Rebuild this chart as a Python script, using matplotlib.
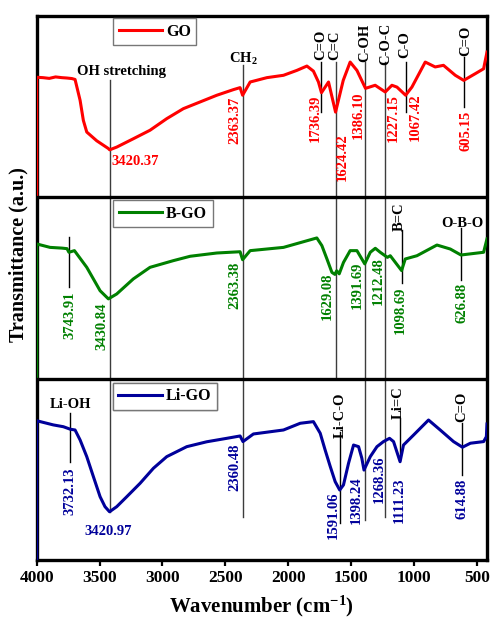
import matplotlib
matplotlib.use("Agg")
import matplotlib.pyplot as plt

plt.rcParams['font.family'] = ['Liberation Serif', 'DejaVu Serif']
plt.rcParams['font.weight'] = 'bold'
plt.rcParams['mathtext.fontset'] = 'custom'
plt.rcParams['mathtext.rm'] = 'Liberation Serif:bold'
plt.rcParams['mathtext.bf'] = 'Liberation Serif:bold'
plt.rcParams['mathtext.it'] = 'Liberation Serif:bold'

# ---------------- data (wavenumber, transmittance a.u. within each panel) ----
GO_wn = [4000, 4000, 3950, 3900, 3850, 3800, 3760, 3720, 3695, 3655, 3629, 3602,
         3523, 3430, 3420, 3364, 3232, 3099, 2966, 2834, 2701, 2568, 2436, 2383,
         2363, 2303, 2170, 2038, 1932, 1852, 1800, 1760, 1736, 1680, 1624, 1563,
         1508, 1454, 1386, 1309, 1229, 1176, 1136, 1067, 1017, 911, 832, 766, 672,
         605, 513, 447, 420]
GO_T = [0, 66.2, 66.0, 65.6, 66.4, 66.0, 65.8, 65.5, 65.0, 53.5, 42.4, 36.0,
        31.2, 26.9, 26.2, 27.7, 32.3, 37.0, 43.4, 48.9, 52.6, 56.3, 59.4, 60.5,
        56.3, 63.6, 66.0, 67.3, 70.0, 72.4, 69.6, 63.6, 57.7, 63.6, 47.0, 64.5,
        74.6, 70.0, 60.1, 61.8, 58.1, 61.8, 60.8, 56.3, 60.8, 74.6, 71.9, 72.8,
        67.3, 64.5, 68.2, 70.9, 80.1]

BGO_wn = [4000, 4000, 3894, 3800, 3759, 3744, 3700, 3602, 3496, 3430, 3364, 3232,
          3099, 2913, 2780, 2568, 2383, 2363, 2303, 2038, 1773, 1733, 1693, 1653,
          1629, 1615, 1595, 1561, 1508, 1454, 1392, 1348, 1308, 1269, 1212, 1189,
          1099, 1070, 977, 818, 712, 627, 447, 420]
BGO_T = [0, 74.3, 72.4, 72.0, 71.7, 69.7, 70.6, 61.4, 48.5, 44.0, 46.7, 55.0,
         61.4, 65.1, 67.5, 69.3, 70.0, 65.6, 70.6, 72.4, 77.6, 73.4, 66.1, 58.6,
         57.5, 59.5, 57.8, 64.1, 70.6, 70.6, 63.3, 69.7, 71.9, 69.7, 66.9, 67.8,
         59.6, 66.0, 67.8, 73.7, 71.5, 68.2, 69.7, 77.1]

LiGO_wn = [4000, 4000, 3868, 3788, 3732, 3695, 3655, 3602, 3549, 3496, 3457, 3421,
           3364, 3284, 3178, 3072, 2966, 2807, 2648, 2489, 2383, 2360, 2277, 2038,
           1905, 1800, 1746, 1707, 1666, 1627, 1591, 1561, 1521, 1481, 1441, 1415,
           1398, 1348, 1295, 1243, 1195, 1163, 1111, 1084, 1004, 885, 792, 686, 615,
           552, 447, 425, 420]
LiGO_T = [0, 76.8, 74.5, 73.5, 72.1, 71.7, 66.2, 57.0, 45.9, 34.9, 29.4, 26.6,
          29.4, 34.9, 42.3, 50.6, 57.0, 62.5, 65.2, 67.1, 68.4, 65.3, 69.5, 71.7,
          75.4, 76.3, 69.9, 60.7, 51.5, 43.2, 38.6, 41.4, 53.3, 63.4, 62.5, 56.1,
          49.6, 57.0, 62.5, 65.3, 67.1, 65.3, 54.2, 63.4, 68.9, 77.2, 71.7, 65.3,
          62.2, 64.4, 65.3, 68.0, 75.0]

series_names = ['GO', 'B-GO', 'Li-GO']

GO_peaks = [3420.37, 2363.37, 1736.39, 1624.42, 1386.10, 1227.15, 1067.42, 605.15]
BGO_peaks = [3743.91, 3430.84, 2363.38, 1629.08, 1391.69, 1212.48, 1098.69, 626.88]
LiGO_peaks = [3732.13, 3420.97, 2360.48, 1591.06, 1398.24, 1268.36, 1111.23, 614.88]

GO_bands = ['OH stretching', 'CH$_2$', 'C=O', 'C=C', 'C-OH', 'C-O-C', 'C-O', 'C=O']
BGO_bands = ['B=C', 'O-B-O']
LiGO_bands = ['Li-OH', 'Li-C-O', 'Li=C', 'C=O']

xticks = [4000, 3500, 3000, 2500, 2000, 1500, 1000, 500]

# ---------------- styles / layout -------------------------------------------
colors = ['#ff0000', '#008000', '#00009a']
offsets = [2, 1, 0]
W, H = 491, 619
fig = plt.figure(figsize=(W / 100, H / 100), dpi=100)
ax = fig.add_axes([36.7 / W, 59 / H, 450.3 / W, 544 / H])

curves = [(GO_wn, GO_T), (BGO_wn, BGO_T), (LiGO_wn, LiGO_T)]
handles = []
for (wn, T), c, off, name in zip(curves, colors, offsets, series_names):
    ln, = ax.plot(wn, [off + t / 100 for t in T], color=c, lw=2.2, label=name,
                  solid_joinstyle='round', zorder=3)
    handles.append(ln)

ax.set_xlim(4000, 420)
ax.set_ylim(0, 3)
for s in ax.spines.values():
    s.set_linewidth(2.4)
ax.axhline(1, color='black', lw=2.4, zorder=5)
ax.axhline(2, color='black', lw=2.4, zorder=5)
ax.set_yticks([])
ax.set_xticks(xticks)
ax.tick_params(axis='x', direction='out', length=4, width=1.6, labelsize=12.5, pad=3)
for lab in ax.get_xticklabels():
    lab.set_fontweight('bold')

# legends
leg_pos = [(0.170, 0.9958), (0.170, 0.6618), (0.169, 0.3259)]
for h, pos in zip(handles, leg_pos):
    lg = ax.legend(handles=[h], loc='upper left', bbox_to_anchor=pos, borderaxespad=0,
                   fancybox=False, edgecolor='#777777', framealpha=1,
                   handlelength=2.7, handletextpad=0.25, borderpad=0.35,
                   prop={'weight': 'bold', 'size': 11.5})
    lg.get_frame().set_linewidth(1.0)
    ax.add_artist(lg)

# vertical marker lines: (wavenumber, y0, y1, colour)
gray = '#3c3c3c'
vlines = [
    (GO_peaks[0], 2.647, 0.265, gray),
    (GO_peaks[1], 2.730, 0.237, gray),
    (GO_peaks[2], 2.746, 2.471, 'black'),
    (GO_peaks[3], 2.746, 1.000, gray),
    (GO_peaks[4], 2.746, 0.221, gray),
    (GO_peaks[5], 2.746, 0.237, gray),
    (GO_peaks[6], 2.746, 2.471, 'black'),
    (GO_peaks[7], 2.774, 2.498, 'black'),
    (BGO_peaks[0], 1.783, 1.507, 'black'),
    (BGO_peaks[6], 1.820, 1.526, 'black'),
    (BGO_peaks[7], 1.831, 1.544, 'black'),
    (LiGO_peaks[0], 0.811, 0.542, 'black'),
    (LiGO_peaks[3], 0.706, 0.204, 'black'),
    (LiGO_peaks[6], 0.783, 0.551, 'black'),
    (LiGO_peaks[7], 0.756, 0.469, 'black'),
]
for x, y0, y1, c in vlines:
    ax.plot([x, x], [y0, y1], color=c, lw=1.0, zorder=2)

fs = 10.5
# peak value labels: (x, y, rotation, ha)
GO_lab_pos = [(3409, 2.200, 0, 'left'), (2423, 2.427, 90, 'center'),
              (1786, 2.434, 90, 'center'), (1574, 2.220, 90, 'center'),
              (1446, 2.455, 90, 'center'), (1163, 2.438, 90, 'center'),
              (991, 2.443, 90, 'center'), (587, 2.368, 90, 'center')]
BGO_lab_pos = [(3735, 1.351, 90, 'center'), (3483, 1.287, 90, 'center'),
               (2423, 1.517, 90, 'center'), (1693, 1.452, 90, 'center'),
               (1450, 1.517, 90, 'center'), (1283, 1.539, 90, 'center'),
               (1110, 1.379, 90, 'center'), (617, 1.417, 90, 'center')]
LiGO_lab_pos = [(3735, 0.377, 90, 'center'), (3430, 0.156, 0, 'center'),
                (2423, 0.513, 90, 'center'), (1640, 0.248, 90, 'center'),
                (1460, 0.331, 90, 'center'), (1275, 0.447, 90, 'center'),
                (1116, 0.331, 90, 'center'), (617, 0.336, 90, 'center')]
for peaks, poss, c in [(GO_peaks, GO_lab_pos, colors[0]),
                       (BGO_peaks, BGO_lab_pos, colors[1]),
                       (LiGO_peaks, LiGO_lab_pos, colors[2])]:
    for v, (x, y, r, ha) in zip(peaks, poss):
        ax.text(x, y, f"{v:.2f}", color=c, fontsize=fs, fontweight='bold',
                rotation=r, ha=ha, va='center', zorder=4)

# band labels
GO_band_pos = [(3324, 2.693, 0), (2361, 2.763, 0), (1738, 2.840, 90),
               (1627, 2.840, 90), (1388, 2.851, 90), (1224, 2.846, 90),
               (1076, 2.840, 90), (587, 2.862, 90)]
BGO_band_pos = [(1116, 1.892, 90), (619, 1.857, 0)]
LiGO_band_pos = [(3735, 0.855, 0), (1587, 0.800, 90), (1124, 0.867, 90),
                 (619, 0.844, 90)]
for bands, poss in [(GO_bands, GO_band_pos), (BGO_bands, BGO_band_pos),
                    (LiGO_bands, LiGO_band_pos)]:
    for b, (x, y, r) in zip(bands, poss):
        ax.text(x, y, b, color='black', fontsize=fs, fontweight='bold',
                rotation=r, ha='center', va='center', zorder=4)

fig.text(261 / W, (H - 606) / H, r'Wavenumber (cm$^{\mathbf{-1}}$)', fontsize=15,
         fontweight='bold', ha='center', va='center')
fig.text(18.3 / W, (H - 255) / H, 'Transmittance (a.u.)', fontsize=14.5,
         fontweight='bold', ha='center', va='center', rotation=90)

fig.savefig('out.png', dpi=100)
